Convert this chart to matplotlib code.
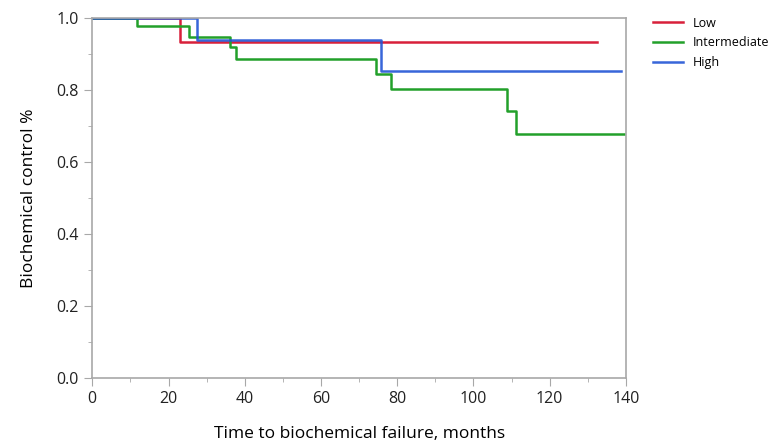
import matplotlib
matplotlib.use("Agg")
import matplotlib.pyplot as plt
from matplotlib.ticker import MultipleLocator

plt.rcParams['font.family'] = ['Open Sans', 'DejaVu Sans']

# Kaplan-Meier style curves
low_t = [0, 23.1, 132.3]
low_s = [1.0, 0.934, 0.934]
int_t = [0, 11.8, 25.3, 36.0, 37.6, 74.3, 78.3, 108.8, 111.2, 139.5]
int_s = [1.0, 0.978, 0.948, 0.920, 0.885, 0.844, 0.803, 0.740, 0.678, 0.678]
high_t = [0, 27.6, 75.7, 138.7]
high_s = [1.0, 0.939, 0.853, 0.853]

fig = plt.figure(figsize=(7.69, 4.47), dpi=100)
ax = fig.add_axes([0.120, 0.155, 0.694, 0.805])

ax.step(low_t, low_s, where='post', c='#d8203a', lw=1.8, label='Low')
ax.step(int_t, int_s, where='post', c='#22a02a', lw=1.8, label='Intermediate')
ax.step(high_t, high_s, where='post', c='#2255d5', lw=1.8, alpha=0.9, label='High')

ax.set_xlim(0, 140)
ax.set_ylim(0, 1.0)
ax.xaxis.set_major_locator(MultipleLocator(20))
ax.xaxis.set_minor_locator(MultipleLocator(10))
ax.yaxis.set_major_locator(MultipleLocator(0.2))
ax.yaxis.set_minor_locator(MultipleLocator(0.1))
ax.yaxis.set_major_formatter(matplotlib.ticker.FormatStrFormatter('%.1f'))

for sp in ax.spines.values():
    sp.set_color('#a8a8a8')
    sp.set_linewidth(1.2)
ax.tick_params(which='major', length=6, color='#a8a8a8', labelsize=11.5, labelcolor='#222222')
ax.tick_params(which='minor', length=3, color='#a8a8a8')

ax.set_xlabel("Time to biochemical failure, months", fontsize=12.5, labelpad=14)
ax.set_ylabel("Biochemical control %", fontsize=12.5, labelpad=14)

ax.legend(loc='upper left', bbox_to_anchor=(1.03, 1.035), frameon=False,
          fontsize=9, handlelength=2.4, handletextpad=0.8, labelspacing=0.55)

plt.savefig("out.png", dpi=100)
